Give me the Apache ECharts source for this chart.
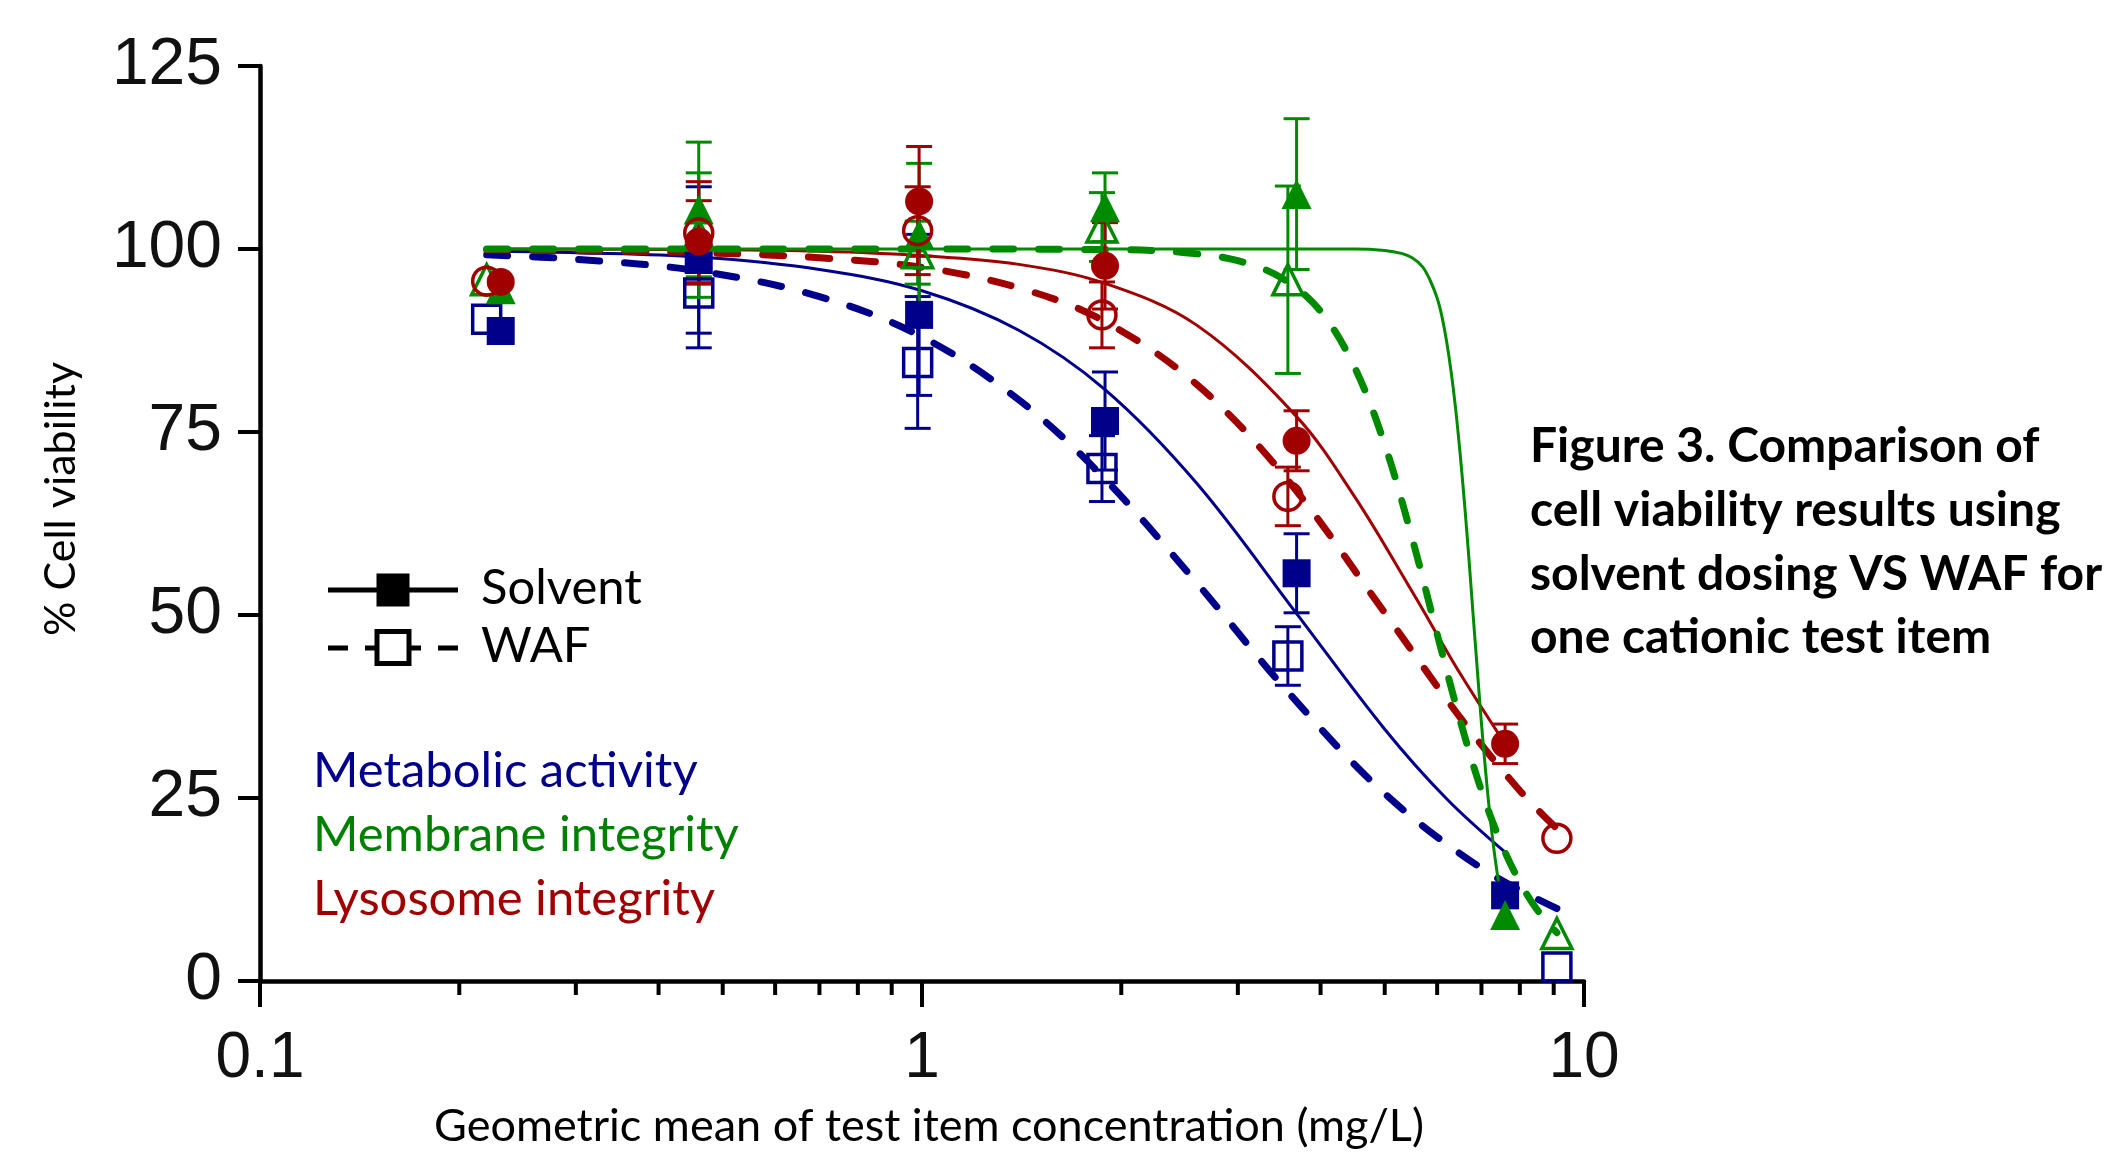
<!DOCTYPE html>
<html>
<head>
<meta charset="utf-8">
<title>Cell viability</title>
<script src="https://cdn.jsdelivr.net/npm/echarts@6/dist/echarts.min.js"></script>
<style>
  html, body { margin: 0; padding: 0; background: #fff; }
  #main { width: 2115px; height: 1152px; }
</style>
</head>
<body>
<div id="main"></div>
<script>
// concentrations (mg/L), solvent dosing vs WAF
var solventX = [0.231, 0.46, 0.99, 1.89, 3.68, 7.6];
var wafX = [0.22, 0.46, 0.985, 1.87, 3.57, 9.1];

// means and SD, % cell viability
var metabolicSolvent = [88.8, 98.5, 91, 76.5, 55.7, 11.7];
var metabolicSolventSd = [0, 10, 11, 6.7, 5.4, 0];
var metabolicWaf = [90.4, 94, 84.5, 70, 44.4, 1.9];
var metabolicWafSd = [0, 7.5, 9, 4.5, 4, 0];
var membraneSolvent = [94.5, 105.4, 102, 105.7, 107.5, 9];
var membraneSolventSd = [0, 9.2, 9.7, 4.7, 10.3, 0];
var membraneWaf = [95.8, 101.9, 99.5, 103, 95.8, 6.5];
var membraneWafSd = [0, 8.5, 4.3, 4.7, 12.8, 0];
var lysosomeSolvent = [95.5, 101, 106.5, 97.7, 73.8, 32.4];
var lysosomeSolventSd = [0, 5.6, 7.5, 5.9, 4.1, 2.7];
var lysosomeWaf = [95.6, 102.2, 102.5, 91, 66.2, 19.5];
var lysosomeWafSd = [0, 7, 6, 4.5, 4, 0];

// fitted curves
var metabolicSolventFitX = [0.231, 0.3, 0.46, 0.7, 1.0, 1.4, 1.89, 2.6, 3.68, 5.0, 6.2, 7.6];
var metabolicSolventFitY = [99.7, 99.5, 98.9, 97.2, 94.3, 88.9, 80.8, 68.0, 50.2, 34.4, 24.9, 17.6];
var metabolicWafFitX = [0.22, 0.3, 0.46, 0.7, 1.0, 1.4, 1.87, 2.6, 3.57, 5.0, 7.0, 9.1];
var metabolicWafFitY = [99.2, 98.6, 97.0, 93.5, 88.0, 79.4, 69.0, 54.4, 39.5, 25.6, 15.4, 9.9];
var lysosomeSolventFitX = [0.231, 0.46, 0.7, 1.0, 1.4, 1.89, 2.6, 3.68, 4.5, 5.5, 6.5, 7.6];
var lysosomeSolventFitY = [100, 99.9, 99.7, 99.1, 97.9, 95.3, 89.6, 77.1, 66.2, 53.2, 42.0, 32.4];
var lysosomeWafFitX = [0.22, 0.46, 0.7, 1.0, 1.4, 1.87, 2.6, 3.57, 5.0, 6.5, 8.0, 9.1];
var lysosomeWafFitY = [99.9, 99.5, 98.8, 97.5, 94.7, 90.3, 81.5, 68.4, 50.3, 36.0, 26.0, 20.8];
var membraneSolventFitX = [0.231, 1.0, 3.0, 4.5, 5.0, 5.3, 5.5, 5.7, 5.85, 6.0, 6.1, 6.2, 6.3, 6.4, 6.5, 6.6, 6.7, 6.8, 6.9, 7.0, 7.1, 7.2, 7.3, 7.4, 7.5, 7.6];
var membraneSolventFitY = [100, 100, 100, 100, 99.8, 99.4, 98.8, 97.6, 95.8, 93.3, 90.8, 87.4, 83.2, 78.1, 72.0, 65.2, 57.8, 50, 42.5, 35.2, 28.8, 23.1, 18.4, 14.5, 11.3, 8.8];
var membraneWafFitX = [0.22, 1.0, 2.0, 2.5, 3.0, 3.5, 4.0, 4.5, 5.0, 5.5, 6.0, 6.5, 7.0, 7.5, 8.0, 8.5, 9.1];
var membraneWafFitY = [100, 100, 99.9, 99.5, 98.4, 96.0, 91.5, 83.9, 73.3, 60.5, 47.4, 35.6, 26.0, 18.8, 13.5, 9.7, 6.6];

// axis ticks
var yTicks = [0, 25, 50, 75, 100, 125];
var xMinorTicks = [0.2, 0.3, 0.4, 0.5, 0.6, 0.7, 0.8, 0.9, 2, 3, 4, 5, 6, 7, 8, 9];

var BLUE = '#00008b';
var GREEN = '#008a00';
var RED = '#a00000';
var TXT = "Lato, 'Open Sans', sans-serif";
var NUM = "'Liberation Sans Narrow', 'Liberation Sans', Arial, sans-serif";

function zip(xs, ys) {
  return xs.map(function (x, i) { return [x, ys[i]]; });
}

// fitted curve
function fitLine(xs, ys, color, dashed) {
  return {
    type: 'line',
    data: zip(xs, ys),
    showSymbol: false,
    smooth: 0.35,
    silent: true,
    z: 2,
    lineStyle: dashed
      ? { color: color, width: 7, type: [21, 25], cap: 'round', opacity: 1 }
      : { color: color, width: 3, opacity: 1 }
  };
}

// markers
function points(xs, ys, color, symbol, open) {
  return {
    type: 'scatter',
    data: zip(xs, ys),
    symbol: symbol,
    symbolSize: symbol === 'triangle' ? 30 : 28,
    z: 4,
    itemStyle: open
      ? { color: 'rgba(255,255,255,0)', borderColor: color, borderWidth: 3.5, opacity: 1 }
      : { color: color, opacity: 1 }
  };
}

// error bars via custom series
function errBars(xs, ys, sds, color) {
  return {
    type: 'custom',
    data: xs.map(function (x, i) { return [x, ys[i], sds[i]]; }),
    encode: { x: 0, y: 1 },
    z: 3,
    renderItem: function (params, api) {
      var x = api.value(0), y = api.value(1), sd = api.value(2);
      if (!sd) return;
      var hi = api.coord([x, y + sd]);
      var lo = api.coord([x, y - sd]);
      var st = { stroke: color, lineWidth: 3 };
      return {
        type: 'group',
        children: [
          { type: 'line', shape: { x1: hi[0], y1: hi[1], x2: lo[0], y2: lo[1] }, style: st },
          { type: 'line', shape: { x1: hi[0] - 13, y1: hi[1], x2: hi[0] + 13, y2: hi[1] }, style: st },
          { type: 'line', shape: { x1: lo[0] - 13, y1: lo[1], x2: lo[0] + 13, y2: lo[1] }, style: st }
        ]
      };
    }
  };
}

// minor ticks of the log axis
var minorTickSeries = {
  type: 'custom',
  data: xMinorTicks.map(function (v) { return [v, 0]; }),
  encode: { x: 0, y: 1 },
  clip: false,
  z: 5,
  renderItem: function (params, api) {
    var p = api.coord([api.value(0), 0]);
    return {
      type: 'line',
      shape: { x1: p[0], y1: p[1], x2: p[0], y2: p[1] + 14 },
      style: { stroke: '#000', lineWidth: 4 }
    };
  }
};

var myChart = echarts.init(document.getElementById('main'));

var option = {
  animation: false,
  backgroundColor: '#fff',
  grid: { left: 260, right: 531, top: 66, bottom: 171 },
  xAxis: {
    type: 'log',
    logBase: 10,
    min: 0.1,
    max: 10,
    axisLine: { lineStyle: { color: '#000', width: 4.5 } },
    axisTick: { length: 26, lineStyle: { color: '#000', width: 4 } },
    minorTick: { show: false },
    splitLine: { show: false },
    axisLabel: {
      margin: 46,
      color: '#111',
      fontSize: 64,
      fontFamily: NUM,
      formatter: function (v) { return String(+Number(v).toPrecision(6)); }
    }
  },
  yAxis: {
    type: 'value',
    min: yTicks[0],
    max: yTicks[yTicks.length - 1],
    interval: 25,
    axisLine: { show: true, lineStyle: { color: '#000', width: 4.5 } },
    axisTick: { show: true, length: 22, lineStyle: { color: '#000', width: 4 } },
    splitLine: { show: false },
    axisLabel: {
      margin: 38,
      color: '#111',
      fontSize: 66,
      fontFamily: NUM
    }
  },
  series: [
    fitLine(metabolicSolventFitX, metabolicSolventFitY, BLUE, false),
    fitLine(metabolicWafFitX, metabolicWafFitY, BLUE, true),
    fitLine(lysosomeSolventFitX, lysosomeSolventFitY, RED, false),
    fitLine(lysosomeWafFitX, lysosomeWafFitY, RED, true),
    fitLine(membraneSolventFitX, membraneSolventFitY, GREEN, false),
    fitLine(membraneWafFitX, membraneWafFitY, GREEN, true),

    errBars(solventX, metabolicSolvent, metabolicSolventSd, BLUE),
    errBars(wafX, metabolicWaf, metabolicWafSd, BLUE),
    errBars(solventX, membraneSolvent, membraneSolventSd, GREEN),
    errBars(wafX, membraneWaf, membraneWafSd, GREEN),
    errBars(solventX, lysosomeSolvent, lysosomeSolventSd, RED),
    errBars(wafX, lysosomeWaf, lysosomeWafSd, RED),

    points(solventX, metabolicSolvent, BLUE, 'rect', false),
    points(wafX, metabolicWaf, BLUE, 'rect', true),
    points(solventX, membraneSolvent, GREEN, 'triangle', false),
    points(wafX, membraneWaf, GREEN, 'triangle', true),
    points(solventX, lysosomeSolvent, RED, 'circle', false),
    points(wafX, lysosomeWaf, RED, 'circle', true),

    minorTickSeries
  ],
  graphic: [
    // axis titles
    {
      type: 'text', x: 61, y: 499, rotation: Math.PI / 2,
      style: { text: '% Cell viability', font: '43px ' + TXT, fill: '#000', align: 'center', verticalAlign: 'middle' }
    },
    {
      type: 'text', x: 929, y: 1126,
      style: { text: 'Geometric mean of test item concentration (mg/L)', font: '45px ' + TXT, fill: '#000', align: 'center', verticalAlign: 'middle' }
    },
    // legend: solvent
    { type: 'line', shape: { x1: 328, y1: 590, x2: 458, y2: 590 }, style: { stroke: '#000', lineWidth: 5 } },
    { type: 'rect', shape: { x: 376.5, y: 573.5, width: 33, height: 33 }, style: { fill: '#000' } },
    { type: 'text', x: 481, y: 588, style: { text: 'Solvent', font: '49px ' + TXT, fill: '#000', verticalAlign: 'middle' } },
    // legend: WAF
    { type: 'line', shape: { x1: 328, y1: 648, x2: 348, y2: 648 }, style: { stroke: '#000', lineWidth: 5 } },
    { type: 'line', shape: { x1: 365, y1: 648, x2: 377, y2: 648 }, style: { stroke: '#000', lineWidth: 5 } },
    { type: 'rect', shape: { x: 377, y: 631.5, width: 32, height: 32 }, style: { fill: '#fff', stroke: '#000', lineWidth: 5 } },
    { type: 'line', shape: { x1: 409, y1: 648, x2: 421, y2: 648 }, style: { stroke: '#000', lineWidth: 5 } },
    { type: 'line', shape: { x1: 438, y1: 648, x2: 458, y2: 648 }, style: { stroke: '#000', lineWidth: 5 } },
    { type: 'text', x: 481, y: 646, style: { text: 'WAF', font: '49px ' + TXT, fill: '#000', verticalAlign: 'middle' } },
    // endpoint colour key
    { type: 'text', x: 313, y: 771, style: { text: 'Metabolic activity', font: '49px ' + TXT, fill: BLUE, verticalAlign: 'middle' } },
    { type: 'text', x: 313, y: 835, style: { text: 'Membrane integrity', font: '49px ' + TXT, fill: '#008000', verticalAlign: 'middle' } },
    { type: 'text', x: 313, y: 899, style: { text: 'Lysosome integrity', font: '49px ' + TXT, fill: RED, verticalAlign: 'middle' } },
    // caption
    { type: 'text', x: 1530, y: 447, style: { text: 'Figure 3. Comparison of', font: 'bold 48px ' + TXT, fill: '#000', verticalAlign: 'middle' } },
    { type: 'text', x: 1530, y: 511, style: { text: 'cell viability results using', font: 'bold 48px ' + TXT, fill: '#000', verticalAlign: 'middle' } },
    { type: 'text', x: 1530, y: 575, style: { text: 'solvent dosing VS WAF for', font: 'bold 48px ' + TXT, fill: '#000', verticalAlign: 'middle' } },
    { type: 'text', x: 1530, y: 638, style: { text: 'one cationic test item', font: 'bold 48px ' + TXT, fill: '#000', verticalAlign: 'middle' } }
  ]
};

myChart.setOption(option);
</script>
</body>
</html>
